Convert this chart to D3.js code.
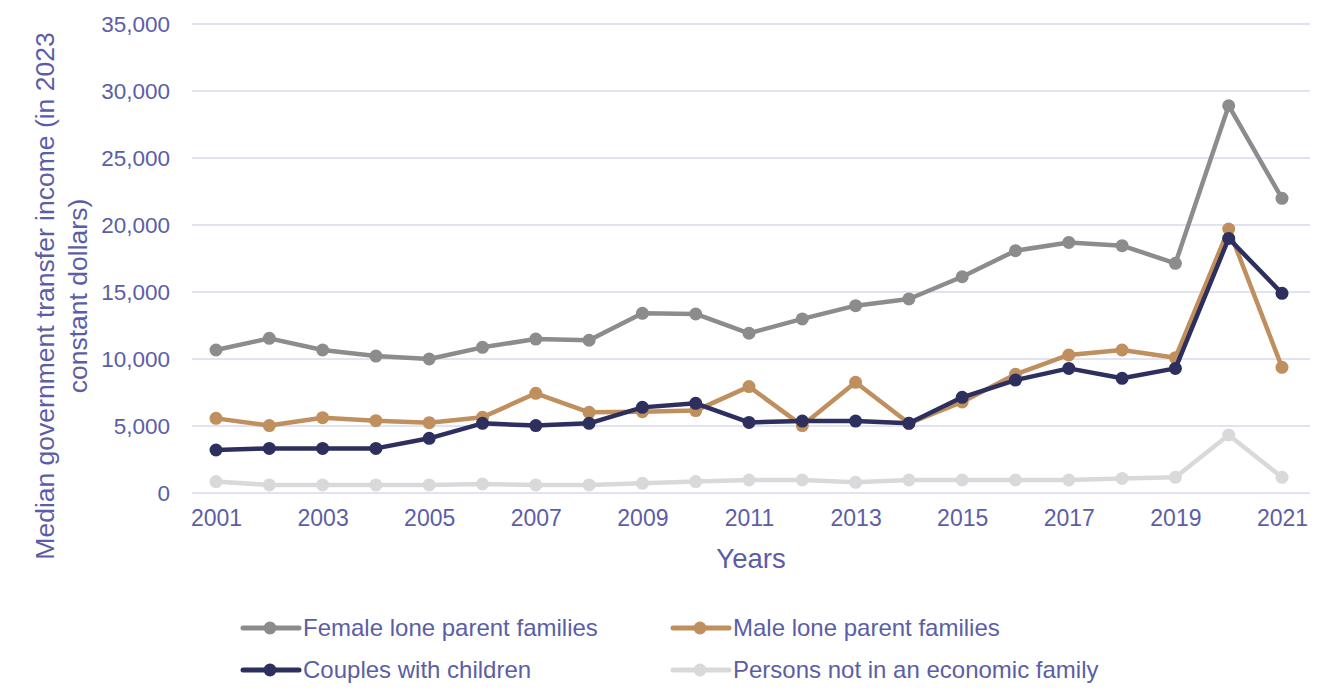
<!DOCTYPE html>
<html>
<head>
<meta charset="utf-8">
<script src="https://cdn.jsdelivr.net/npm/d3@7"></script>
<style>
  body { margin: 0; background: #fff; }
  svg text { font-family: "Liberation Sans", Arial, sans-serif; fill: #5b5ea6; }
</style>
</head>
<body>
<svg id="chart" width="1332" height="698"></svg>
<script>
const years = d3.range(2001, 2022);
const yTicks = [0, 5000, 10000, 15000, 20000, 25000, 30000, 35000];
const xTickYears = [2001, 2003, 2005, 2007, 2009, 2011, 2013, 2015, 2017, 2019, 2021];

const female = [10670, 11540, 10670, 10220, 10000, 10870, 11490, 11400, 13410, 13360, 11920,
    12990, 13980, 14480, 16140, 18080, 18700, 18460, 17140, 28900, 21990];
const male = [5570, 5030, 5620, 5400, 5250, 5650, 7440, 6020, 6070, 6150, 7940,
    5030, 8260, 5200, 6800, 8860, 10300, 10670, 10100, 19700, 9380];
const couples = [3210, 3330, 3330, 3330, 4080, 5200, 5030, 5200, 6390, 6690, 5270,
    5370, 5370, 5200, 7140, 8430, 9300, 8560, 9300, 19000, 14900];
const persons = [850, 600, 600, 600, 600, 670, 600, 600, 720, 850, 970,
    970, 800, 970, 970, 970, 970, 1090, 1170, 4330, 1170];

const seriesNames = ["Female lone parent families", "Male lone parent families",
    "Couples with children", "Persons not in an economic family"];
const seriesColors = ["#8c8c8c", "#bf8f5e", "#2d2f5e", "#d9d9d9"];

const series = [
    {name: seriesNames[0], color: seriesColors[0], values: female},
    {name: seriesNames[1], color: seriesColors[1], values: male},
    {name: seriesNames[2], color: seriesColors[2], values: couples},
    {name: seriesNames[3], color: seriesColors[3], values: persons}
];

const svg = d3.select("#chart"),
    plotLeft = 192, plotRight = 1310, plotTop = 24, plotBottom = 493;

const x = d3.scalePoint().domain(years).range([216, 1282]);
const y = d3.scaleLinear().domain([0, 35000]).range([plotBottom, plotTop]);

// grid
svg.append("g")
    .selectAll("line")
    .data(yTicks)
    .join("line")
        .attr("x1", plotLeft)
        .attr("x2", plotRight)
        .attr("y1", (d) => y(d))
        .attr("y2", (d) => y(d))
        .attr("stroke", "#d9d9ec")
        .attr("stroke-width", 1.5);

// y axis
const yAxis = svg.append("g")
    .attr("transform", `translate(${plotLeft},0)`)
    .call(d3.axisLeft(y).tickValues(yTicks).tickSize(0).tickPadding(22).tickFormat(d3.format(",")));
yAxis.select(".domain").remove();
yAxis.selectAll("text").attr("font-size", 22.5).attr("fill", "#5b5ea6");

// x axis
const xAxis = svg.append("g")
    .attr("transform", `translate(0,${plotBottom})`)
    .call(d3.axisBottom(x).tickValues(xTickYears).tickSize(0).tickPadding(17));
xAxis.select(".domain").remove();
xAxis.selectAll("text").attr("font-size", 23).attr("fill", "#5b5ea6");

svg.append("text")
    .attr("x", 751)
    .attr("y", 568)
    .attr("text-anchor", "middle")
    .attr("font-size", 27.5)
    .text("Years");

const yTitle = svg.append("text")
    .attr("transform", "translate(0,296) rotate(-90)")
    .attr("text-anchor", "middle")
    .attr("font-size", 26.5);
yTitle.append("tspan").attr("x", 0).attr("y", 54).text("Median government transfer income (in 2023");
yTitle.append("tspan").attr("x", 0).attr("y", 87).text("constant dollars)");

// lines, drawn from the back (light) to the front
const line = d3.line()
    .x((d, i) => x(years[i]))
    .y((d) => y(d));

const drawOrder = [3, 0, 1, 2];
for (const idx of drawOrder) {
    const s = series[idx];
    const g = svg.append("g");
    g.append("path")
        .datum(s.values)
        .attr("fill", "none")
        .attr("stroke", s.color)
        .attr("stroke-width", 4.5)
        .attr("stroke-linejoin", "round")
        .attr("d", line);
    g.selectAll("circle")
        .data(s.values)
        .join("circle")
            .attr("cx", (d, i) => x(years[i]))
            .attr("cy", (d) => y(d))
            .attr("r", 6.5)
            .attr("fill", s.color);
}

// legend
const legendPos = [[243, 628], [673, 628], [243, 670], [673, 670]];
series.forEach((s, i) => {
    const [lx, ly] = legendPos[i];
    const g = svg.append("g").attr("transform", `translate(${lx},${ly})`);
    g.append("line")
        .attr("x1", 0).attr("x2", 56)
        .attr("stroke", s.color)
        .attr("stroke-width", 5)
        .attr("stroke-linecap", "round");
    g.append("circle").attr("cx", 27).attr("r", 6.5).attr("fill", s.color);
    g.append("text")
        .attr("x", 60)
        .attr("dy", "0.35em")
        .attr("font-size", 24)
        .text(s.name);
});
</script>
</body>
</html>
